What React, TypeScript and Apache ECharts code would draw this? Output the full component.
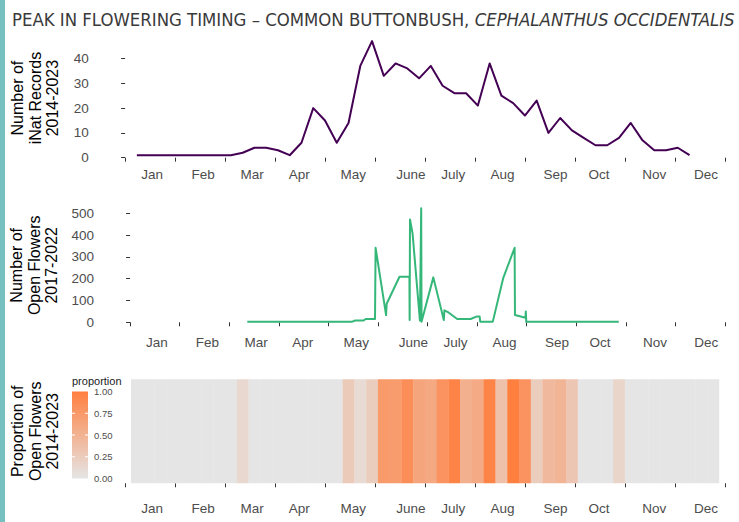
import React, { useEffect, useRef } from "react";
import * as echarts from "echarts";

// Month labels and tick positions (x axis in week-of-year units)
const months = ["Jan", "Feb", "Mar", "Apr", "May", "June", "July", "Aug", "Sep", "Oct", "Nov", "Dec"];
const monthLabelWeeks = [2.29, 6.63, 10.8, 14.8, 19.4, 24.3, 27.9, 32.1, 36.6, 40.3, 45.0, 49.4];
const monthTickWeeks = [0, 4.25, 8.5, 12.75, 17, 21.25, 25.5, 29.75, 34, 38.25, 42.5, 46.75, 51];

// Panel 1: number of iNat records per week (2014-2023)
const inatWeeks = [
  1, 2, 3, 4, 5, 6, 7, 8, 9, 10, 11, 12, 13, 14, 15, 16, 17, 18, 19, 20, 21, 22, 23, 24,
  25, 26, 27, 28, 29, 30, 31, 32, 33, 34, 35, 36, 37, 38, 39, 40, 41, 42, 43, 44, 45, 46, 47, 48,
];
const inatRecords = [
  1, 1, 1, 1, 1, 1, 1, 1, 1, 2, 4, 4, 3, 1, 6, 20, 15, 6, 14, 37, 47, 33, 38, 36,
  32, 37, 29, 26, 26, 21, 38, 25, 22, 17, 23, 10, 16, 11, 8, 5, 5, 8, 14, 7, 3, 3, 4, 1,
];

// Panel 2: number of open flowers (2017-2022)
const flowerWeeks = [
  10.05, 19.0, 19.3, 20.0, 20.2, 21.0, 21.05, 21.95, 22.0, 23.1, 23.95, 23.97, 24.0, 24.22,
  24.85, 24.96, 24.99, 26.0, 26.9, 26.95, 27.3, 28.05, 29.2, 29.75, 29.97, 30.02, 31.1,
  32.0, 32.97, 33.0, 33.9, 33.93, 33.97, 41.9,
];
const flowerCounts = [
  2, 2, 8, 8, 15, 15, 342, 33, 85, 209, 209, 10, 472, 408,
  8, 523, 2, 206, 10, 55, 45, 15, 15, 27, 27, 3, 3,
  204, 342, 33, 21, 50, 2, 2,
];

// Panel 3: proportion of open flowers per week (2014-2023)
const propWeeks = [
  1, 2, 3, 4, 5, 6, 7, 8, 9, 10, 11, 12, 13, 14, 15, 16, 17, 18, 19, 20, 21, 22, 23, 24, 25,
  26, 27, 28, 29, 30, 31, 32, 33, 34, 35, 36, 37, 38, 39, 40, 41, 42, 43, 44, 45, 46, 47, 48, 49, 50,
];
const proportions = [
  0, 0, 0, 0, 0, 0, 0, 0, 0, 0.13, 0, 0, 0, 0, 0, 0, 0, 0, 0.26, 0.1, 0.24, 0.74, 0.72, 0.85, 0.63,
  0.59, 0.8, 0.96, 0.52, 0.58, 0.96, 0.35, 1.0, 0.8, 0.24, 0.44, 0.48, 0.3, 0, 0, 0, 0.16, 0, 0, 0, 0, 0, 0, 0, 0,
];

const yTicksTop = [0, 10, 20, 30, 40];
const yTicksMid = [0, 100, 200, 300, 400, 500];
const legendBreaks = [1, 0.75, 0.5, 0.25, 0];

const LOW = "#e5e5e5";
const HIGH = "#ff7f3f";
const FONT = "'Liberation Sans', Arial, sans-serif";
const TITLE_FONT = "'Liberation Sans Narrow', 'DejaVu Sans Condensed', sans-serif";

export default function App() {
  const ref = useRef<HTMLDivElement>(null);

  useEffect(() => {
    const chart = echarts.init(ref.current!, null, { renderer: "svg" });
    const xMin = -2.5;
    const xMax = 51.9;
    const gridLeft = 95.7;
    const gridWidth = 639.7;

    const grids = [
      { left: gridLeft, width: gridWidth, top: 35.3, height: 125.6 },
      { left: gridLeft, width: gridWidth, top: 202.6, height: 125.4 },
      { left: gridLeft, width: gridWidth, top: 368.6, height: 125.4 },
    ];

    const xAxis = [0, 1, 2].map((gi) => ({
      type: "value",
      gridIndex: gi,
      min: xMin,
      max: xMax,
      axisLine: { show: false },
      splitLine: { show: false },
      axisTick: {
        show: true,
        customValues: monthTickWeeks,
        length: 4,
        lineStyle: { color: "#333333", width: 1 },
      },
      axisLabel: {
        show: true,
        customValues: monthLabelWeeks,
        formatter: (v: number) => {
          let best = 0;
          for (let i = 0; i < monthLabelWeeks.length; i++) {
            if (Math.abs(monthLabelWeeks[i] - v) < Math.abs(monthLabelWeeks[best] - v)) best = i;
          }
          return months[best];
        },
        color: "#4d4d4d",
        fontSize: 13.5,
        fontFamily: FONT,
        margin: 7,
      },
    }));

    const nameStyle = {
      color: "#000000",
      fontSize: 16,
      lineHeight: 17.5,
      fontFamily: FONT,
      align: "center",
    };

    const yAxis = [
      {
        type: "value",
        gridIndex: 0,
        min: -1.3,
        max: 49.35,
        name: "Number of\niNat Records\n2014-2023",
        nameLocation: "middle",
        nameRotate: 90,
        nameGap: 34,
        nameTextStyle: nameStyle,
        axisLine: { show: false },
        splitLine: { show: false },
        axisTick: { show: true, customValues: yTicksTop, length: 4, lineStyle: { color: "#333333" } },
        axisLabel: {
          customValues: yTicksTop,
          color: "#4d4d4d",
          fontSize: 13.5,
          fontFamily: FONT,
          margin: 7,
        },
      },
      {
        type: "value",
        gridIndex: 1,
        min: -26.2,
        max: 549,
        name: "Number of\nOpen Flowers\n2017-2022",
        nameLocation: "middle",
        nameRotate: 90,
        nameGap: 34,
        nameTextStyle: nameStyle,
        axisLine: { show: false },
        splitLine: { show: false },
        axisTick: { show: true, customValues: yTicksMid, length: 4, lineStyle: { color: "#333333" } },
        axisLabel: {
          customValues: yTicksMid,
          color: "#4d4d4d",
          fontSize: 13.5,
          fontFamily: FONT,
          margin: 7,
        },
      },
      {
        type: "value",
        gridIndex: 2,
        min: -0.103,
        max: 1.103,
        name: "Proportion of\nOpen Flowers\n2014-2023",
        nameLocation: "middle",
        nameRotate: 90,
        nameGap: 34,
        nameTextStyle: nameStyle,
        axisLine: { show: false },
        splitLine: { show: false },
        axisTick: { show: false },
        axisLabel: { show: false },
      },
    ];

    // Legend (colour bar) drawn as graphic elements
    const barX = 72;
    const barTop = 391.5;
    const barH = 87;
    const barW = 16;
    const legendEls: any[] = [
      {
        type: "text",
        left: barX,
        top: 375,
        style: { text: "proportion", fill: "#1a1a1a", fontSize: 11, fontFamily: FONT },
      },
      {
        type: "rect",
        shape: { x: barX, y: barTop, width: barW, height: barH },
        style: {
          fill: new echarts.graphic.LinearGradient(0, 0, 0, 1, [
            { offset: 0, color: HIGH },
            { offset: 1, color: LOW },
          ]),
        },
      },
    ];
    legendBreaks.forEach((b) => {
      const y = barTop + (1 - b) * barH;
      legendEls.push({
        type: "text",
        x: barX + barW + 6,
        y,
        style: {
          text: b.toFixed(2),
          fill: "#4d4d4d",
          fontSize: 9.5,
          fontFamily: FONT,
          verticalAlign: "middle",
          align: "left",
        },
      });
      if (b > 0 && b < 1) {
        legendEls.push({
          type: "line",
          shape: { x1: barX, y1: y, x2: barX + 3, y2: y },
          style: { stroke: "#ffffff", lineWidth: 1 },
        });
        legendEls.push({
          type: "line",
          shape: { x1: barX + barW - 3, y1: y, x2: barX + barW, y2: y },
          style: { stroke: "#ffffff", lineWidth: 1 },
        });
      }
    });

    const option: any = {
      animation: false,
      backgroundColor: "#ffffff",
      title: {
        left: 12,
        top: 10,
        padding: 0,
        text: "{a|PEAK IN FLOWERING TIMING – COMMON BUTTONBUSH, }{b|CEPHALANTHUS OCCIDENTALIS}",
        textStyle: {
          fontWeight: "normal",
          rich: {
            a: { fontFamily: TITLE_FONT, fontSize: 18.4, color: "#3a3a3a", fontWeight: "normal" },
            b: {
              fontFamily: TITLE_FONT,
              fontSize: 18.4,
              color: "#3a3a3a",
              fontWeight: "normal",
              fontStyle: "italic",
            },
          },
        },
      },
      grid: grids,
      xAxis,
      yAxis,
      visualMap: {
        show: false,
        type: "continuous",
        seriesIndex: 2,
        dimension: 1,
        min: 0,
        max: 1,
        inRange: { color: [LOW, HIGH] },
      },
      graphic: [
        {
          type: "rect",
          shape: { x: 0, y: 0, width: 5, height: 522 },
          style: { fill: "#76c1c0" },
        },
        ...legendEls,
      ],
      series: [
        {
          type: "line",
          xAxisIndex: 0,
          yAxisIndex: 0,
          data: inatWeeks.map((w, i) => [w, inatRecords[i]]),
          showSymbol: false,
          lineStyle: { color: "#440154", width: 2, join: "round" },
          itemStyle: { color: "#440154" },
        },
        {
          type: "line",
          xAxisIndex: 1,
          yAxisIndex: 1,
          data: flowerWeeks.map((w, i) => [w, flowerCounts[i]]),
          showSymbol: false,
          lineStyle: { color: "#35b779", width: 2, join: "round" },
          itemStyle: { color: "#35b779" },
        },
        {
          type: "custom",
          xAxisIndex: 2,
          yAxisIndex: 2,
          data: propWeeks.map((w, i) => [w, proportions[i]]),
          encode: { x: 0, y: 1 },
          renderItem: (params: any, api: any) => {
            const w = api.value(0);
            const p0 = api.coord([w - 0.5, 1]);
            const p1 = api.coord([w + 0.5, 0]);
            return {
              type: "rect",
              shape: { x: p0[0], y: p0[1], width: p1[0] - p0[0] + 0.3, height: p1[1] - p0[1] },
              style: { fill: api.visual("color") },
            };
          },
        },
      ],
    };

    chart.setOption(option);
    return () => chart.dispose();
  }, []);

  return (
    <div
      ref={ref}
      style={{ position: "fixed", left: 0, top: 0, width: 739, height: 522, background: "#fff" }}
    />
  );
}
